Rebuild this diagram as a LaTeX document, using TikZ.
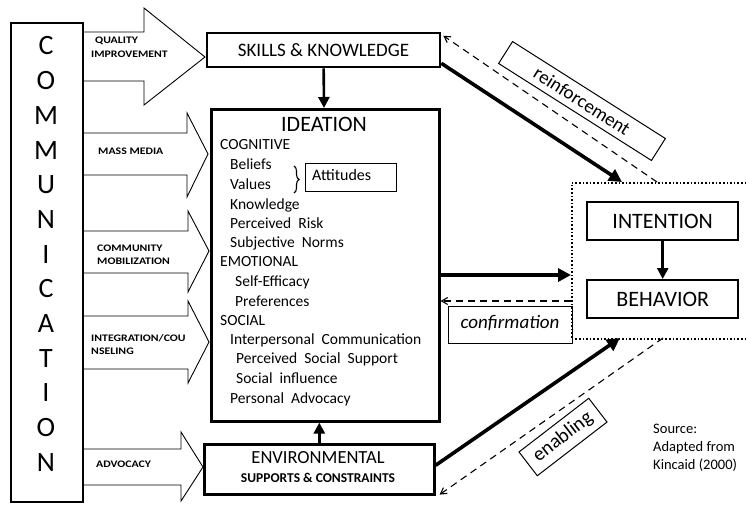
\documentclass[tikz,border=0pt]{standalone}
\usepackage{fontspec}
\setmainfont{Carlito}
\usetikzlibrary{arrows.meta,decorations.pathreplacing,calc}
\begin{document}
\begin{tikzpicture}[x=1pt,y=-1pt,
  box/.style={draw,line width=2.6pt,inner sep=0pt,minimum height=#1},
  blockarrow/.style={draw,line width=0.9pt,line join=miter},
  tag/.style={font=\fontsize{10}{10}\selectfont\bfseries,anchor=west,inner sep=0pt,xscale=1.18},
  item/.style={font=\fontsize{15.5}{16}\selectfont,anchor=west,inner sep=0pt,text height=0.7em,text depth=0.2em},
  heavy/.style={line width=3.6pt,-{Triangle[length=13pt,width=13pt]}},
  mid/.style={line width=2.6pt,-{Triangle[length=11pt,width=11pt]}},
  back/.style={line width=1.1pt,dash pattern=on 7pt off 5pt,-{Straight Barb[length=6pt,width=7pt]}},
  letter/.style={font=\fontsize{28}{28}\selectfont,inner sep=0pt}]
\useasboundingbox (0,0) rectangle (746,504);

% communication column
\node[draw,line width=2.4pt,minimum width=72pt,minimum height=479pt,inner sep=0pt,anchor=north west] (comm) at (10,22) {};
\foreach \ch [count=\i from 0] in {C,O,M,M,U,N,I,C,A,T,I,O,N}
  \node[letter] (L\i) at (46,{46+\i*34.7}) {\ch};

% channel arrows
\draw[blockarrow] (82,32) -- (144,32) -- (144,8) -- (205,57) -- (144,105) -- (144,81) -- (82,81);
\draw[blockarrow] (82,133) -- (187,133) -- (187,113) -- (208,154) -- (187,197) -- (187,175) -- (82,175);
\draw[blockarrow] (82,231) -- (188,231) -- (188,211) -- (209,251) -- (188,292) -- (188,273) -- (82,273);
\draw[blockarrow] (82,316) -- (188,316) -- (188,301) -- (209,342) -- (188,383) -- (188,369) -- (82,369);
\draw[blockarrow] (82,449) -- (181,449) -- (181,432) -- (203,467) -- (181,501) -- (181,485) -- (82,485);

\node[tag] (t1) at (95,41) {QUALITY};
\node[tag] (t2) at (91,54) {IMPROVEMENT};
\node[tag] (t3) at (98,151) {MASS MEDIA};
\node[tag] (t4) at (97,248) {COMMUNITY};
\node[tag] (t5) at (97,261) {MOBILIZATION};
\node[tag] (t6) at (91,338) {INTEGRATION/COU};
\node[tag] (t7) at (91,351) {NSELING};
\node[tag] (t8) at (96,464) {ADVOCACY};

% skills box
\node[box=34pt,minimum width=233pt,font=\fontsize{19}{19}\selectfont] (skills) at (323.5,50) {SKILLS \& KNOWLEDGE};

% ideation box
\node[box=312pt,minimum width=228pt,anchor=north west] (ideation) at (210,108) {};
\node[font=\fontsize{22}{22}\selectfont,inner sep=0pt] (ideaT) at (324,124) {IDEATION};
\node[item] (i1) at (220,147) {COGNITIVE};
\node[item] (i2) at (230,167) {Beliefs};
\node[item] (i3) at (230,187) {Values};
\node[item] (i4) at (230,207) {Knowledge};
\node[item] (i5) at (230,226) {Perceived\ \ Risk};
\node[item] (i6) at (230,245) {Subjective\ \ Norms};
\node[item] (i7) at (220,264) {EMOTIONAL};
\node[item] (i8) at (235,284) {Self-Efficacy};
\node[item] (i9) at (235,304) {Preferences};
\node[item] (i10) at (220,323) {SOCIAL};
\node[item] (i11) at (230,342) {Interpersonal\ \ Communication};
\node[item] (i12) at (236,361) {Perceived\ \ Social\ \ Support};
\node[item] (i13) at (236,381) {Social\ \ influence};
\node[item] (i14) at (230,401) {Personal\ \ Advocacy};

% attitudes
\draw[line width=1.1pt,decorate,decoration={brace,amplitude=5pt}] (294,166) -- (294,193);
\node[draw,line width=1.2pt,minimum width=91pt,minimum height=28pt,inner sep=0pt,anchor=north west] (att) at (305,163) {};
\node[item,font=\fontsize{16}{16}\selectfont] (attT) at (312,178) {Attitudes};

% environmental box
\node[box=50pt,minimum width=230pt,anchor=north west] (env) at (203,443) {};
\node[font=\fontsize{18.5}{19}\selectfont,inner sep=0pt] (envT) at (318,458) {ENVIRONMENTAL};
\node[font=\fontsize{13.5}{14}\selectfont\bfseries,inner sep=0pt] (envS) at (318,478) {SUPPORTS \& CONSTRAINTS};

% intention / behavior
\node[draw,dotted,line width=1.6pt,minimum width=200pt,minimum height=156pt,inner sep=0pt,anchor=north west] (dbox) at (571,182) {};
\node[draw,line width=2.4pt,minimum width=151pt,minimum height=38pt,inner sep=0pt,anchor=north west,font=\fontsize{22}{22}\selectfont] (intent) at (586,201) {INTENTION};
\node[draw,line width=2.4pt,minimum width=151pt,minimum height=38pt,inner sep=0pt,anchor=north west,font=\fontsize{22}{22}\selectfont] (behav) at (586,279) {BEHAVIOR};

% helper coordinates
\coordinate (yMain) at (0,275);
\coordinate (yConf) at (0,301);
\coordinate (reinTip) at (622,182);
\coordinate (reinTail) at (657,182);
\coordinate (enabTip) at (620,338);
\coordinate (enabTail) at (663,338);

% connectors
\draw[mid] (skills) -- (ideation);
\draw[mid] (env.north) -- (env.north |- ideation.south);
\draw[mid] (intent) -- (behav);
\draw[heavy] (ideation.east |- yMain) -- (dbox.west |- yMain);
\draw[back] (dbox.west |- yConf) -- (ideation.east |- yConf);
\draw[heavy] ([yshift=5pt]skills.south east) -- (reinTip);
\draw[back] (reinTail) -- ([xshift=2pt,yshift=-4pt]skills.north east);
\draw[heavy] ([yshift=4pt]env.east) -- (enabTip);
\draw[back] (enabTail) -- ([xshift=4pt,yshift=1pt]env.south east);

% relation labels
\node[draw,line width=1pt,minimum width=124pt,minimum height=37pt,inner sep=0pt,anchor=north west] (conf) at (448,306) {};
\node[font=\fontsize{19}{19}\selectfont\itshape,inner sep=0pt] (confT) at (510,323) {confirmation};
\node[draw,line width=1pt,rotate=-32.4,minimum width=181pt,minimum height=26pt,inner sep=0pt,font=\fontsize{19}{19}\selectfont] (rein) at (582,101) {reinforcement};
\node[draw,line width=1pt,rotate=37.6,minimum width=88pt,minimum height=30pt,inner sep=0pt,font=\fontsize{20}{20}\selectfont] (enab) at (563,437) {enabling};

% source note
\node[font=\fontsize{14.5}{18}\selectfont,align=left,anchor=north west,inner sep=0pt] (src) at (653,424) {Source:\\Adapted from\\Kincaid (2000)};
\end{tikzpicture}
\end{document}
